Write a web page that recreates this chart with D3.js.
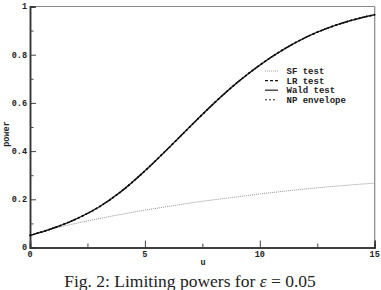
<!DOCTYPE html>
<html>
<head>
<meta charset="utf-8">
<script src="https://cdn.jsdelivr.net/npm/d3@7"></script>
<style>
  body { margin: 0; background: #fff; }
  svg text { fill: #222; }
</style>
</head>
<body>
<div id="chart"></div>
<script>
var w = 381;
var h = 290;

// values
var uValues = [0, 1, 2, 3, 4, 5, 6, 7, 8, 9, 10, 11, 12, 13, 14, 15];
var powerEfficient = [0.050, 0.080, 0.118, 0.168, 0.235, 0.318, 0.410, 0.505, 0.598, 0.683, 0.757, 0.820, 0.872, 0.912, 0.943, 0.966];
var powerSF = [0.050, 0.078, 0.100, 0.120, 0.138, 0.155, 0.170, 0.185, 0.198, 0.210, 0.222, 0.233, 0.243, 0.252, 0.260, 0.267];
var legendLabels = ["SF test", "LR test", "Wald test", "NP envelope"];
var xTicks = [0, 5, 10, 15];
var xMinorTicks = [2.5, 7.5, 12.5];
var yTicks = [0, 0.2, 0.4, 0.6, 0.8, 1];
var yMinorTicks = [0.1, 0.3, 0.5, 0.7, 0.9];

var plotLeft = 30, plotRight = 374.7, plotTop = 6.5, plotBottom = 247.5;

var x = d3.scaleLinear().domain([0, 15]).range([plotLeft, plotRight]);
var y = d3.scaleLinear().domain([0, 1]).range([plotBottom, plotTop]);

var svg = d3.select("#chart").append("svg")
  .attr("width", w)
  .attr("height", h);

var monoFont = "'Liberation Mono', 'DejaVu Sans Mono', monospace";

// frame: top and right lighter
svg.append("line").attr("x1", plotLeft).attr("x2", plotRight).attr("y1", plotTop).attr("y2", plotTop)
  .attr("stroke", "#888").attr("stroke-width", 1.2);
svg.append("line").attr("x1", plotRight).attr("x2", plotRight).attr("y1", plotTop).attr("y2", plotBottom)
  .attr("stroke", "#888").attr("stroke-width", 1.2);

// axes with inward ticks
var yAxis = d3.axisRight(y).tickValues(yTicks).tickSize(6).tickFormat("");
var gy = svg.append("g").attr("transform", "translate(" + plotLeft + ",0)").call(yAxis);
var yMinor = d3.axisRight(y).tickValues(yMinorTicks).tickSize(3.5).tickFormat("");
var gym = svg.append("g").attr("transform", "translate(" + plotLeft + ",0)").call(yMinor);

var xAxis = d3.axisTop(x).tickValues(xTicks).tickSize(7).tickFormat("");
var gx = svg.append("g").attr("transform", "translate(0," + plotBottom + ")").call(xAxis);
var xMinor = d3.axisTop(x).tickValues(xMinorTicks).tickSize(4).tickFormat("");
var gxm = svg.append("g").attr("transform", "translate(0," + plotBottom + ")").call(xMinor);

[gy, gym, gx, gxm].forEach(function (g) {
  g.select(".domain").attr("stroke", "#333").attr("stroke-width", 1.5);
  g.selectAll(".tick line").attr("stroke", "#444").attr("stroke-width", 1);
});

// tick labels
svg.selectAll(".ylab")
  .data(yTicks)
  .enter()
  .append("text")
  .attr("class", "ylab")
  .attr("x", plotLeft - 3)
  .attr("y", d => y(d))
  .attr("dy", "0.35em")
  .attr("text-anchor", "end")
  .attr("font-family", monoFont)
  .attr("font-weight", "bold")
  .attr("font-size", "8.5px")
  .text(d => d === 0 ? "0" : d === 1 ? "1" : d3.format(".1f")(d));

svg.selectAll(".xlab")
  .data(xTicks)
  .enter()
  .append("text")
  .attr("class", "xlab")
  .attr("x", d => x(d))
  .attr("y", plotBottom + 7)
  .attr("dy", "0.35em")
  .attr("text-anchor", "middle")
  .attr("font-family", monoFont)
  .attr("font-weight", "bold")
  .attr("font-size", "8.5px")
  .text(d => d);

// axis titles
svg.append("text")
  .attr("x", 203)
  .attr("y", 262)
  .attr("dy", "0.35em")
  .attr("text-anchor", "middle")
  .attr("font-family", monoFont)
  .attr("font-weight", "bold")
  .attr("font-size", "8.5px")
  .text("u");

svg.append("text")
  .attr("transform", "translate(6,134) rotate(-90)")
  .attr("dy", "0.35em")
  .attr("text-anchor", "middle")
  .attr("font-family", monoFont)
  .attr("font-weight", "bold")
  .attr("font-size", "8.5px")
  .text("power");

// curves
var lineEff = d3.line()
  .x((d, i) => x(uValues[i]))
  .y(d => y(d))
  .curve(d3.curveMonotoneX);

// SF test (thin dotted grey)
svg.append("path")
  .datum(powerSF)
  .attr("d", lineEff)
  .attr("fill", "none")
  .attr("stroke", "#888")
  .attr("stroke-width", 0.9)
  .attr("stroke-dasharray", "1,1");

// Wald test (solid)
svg.append("path")
  .datum(powerEfficient)
  .attr("d", lineEff)
  .attr("fill", "none")
  .attr("stroke", "#333")
  .attr("stroke-width", 1.4);

// LR test (dashed)
svg.append("path")
  .datum(powerEfficient)
  .attr("d", lineEff)
  .attr("fill", "none")
  .attr("stroke", "#111")
  .attr("stroke-width", 1.2)
  .attr("stroke-dasharray", "3,2");

// NP envelope (dots)
svg.append("path")
  .datum(powerEfficient)
  .attr("d", lineEff)
  .attr("fill", "none")
  .attr("stroke", "#000")
  .attr("stroke-width", 1.8)
  .attr("stroke-linecap", "round")
  .attr("stroke-dasharray", "0,4");

// legend
var legend = svg.append("g").attr("transform", "translate(265,71)");
var legendStyles = [
  { stroke: "#999", width: 0.9, dash: "1,1", cap: "butt" },
  { stroke: "#111", width: 1.1, dash: "3,2", cap: "butt" },
  { stroke: "#333", width: 1.3, dash: null, cap: "butt" },
  { stroke: "#000", width: 1.6, dash: "0,4", cap: "round" }
];

var legendItems = legend.selectAll(".legend-item")
  .data(legendLabels)
  .enter()
  .append("g")
  .attr("class", "legend-item")
  .attr("transform", (d, i) => "translate(0," + (i * 9.6) + ")");

legendItems.append("line")
  .attr("x1", (d, i) => i === 3 ? 1 : 0)
  .attr("x2", 13)
  .attr("y1", 0)
  .attr("y2", 0)
  .attr("stroke", (d, i) => legendStyles[i].stroke)
  .attr("stroke-width", (d, i) => legendStyles[i].width)
  .attr("stroke-dasharray", (d, i) => legendStyles[i].dash)
  .attr("stroke-linecap", (d, i) => legendStyles[i].cap);

legendItems.append("text")
  .attr("x", 21.5)
  .attr("y", 0)
  .attr("dy", "0.35em")
  .attr("font-family", monoFont)
  .attr("font-weight", "bold")
  .attr("font-size", "9px")
  .text(d => d);

// caption
var caption = svg.append("text")
  .attr("x", 190)
  .attr("y", 286.5)
  .attr("text-anchor", "middle")
  .attr("font-family", "'Liberation Serif', 'DejaVu Serif', serif")
  .attr("font-size", "17.5px");
caption.append("tspan").text("Fig. 2: Limiting powers for ");
caption.append("tspan").attr("font-style", "italic").text("ε");
caption.append("tspan").text(" = 0.05");
</script>
</body>
</html>
